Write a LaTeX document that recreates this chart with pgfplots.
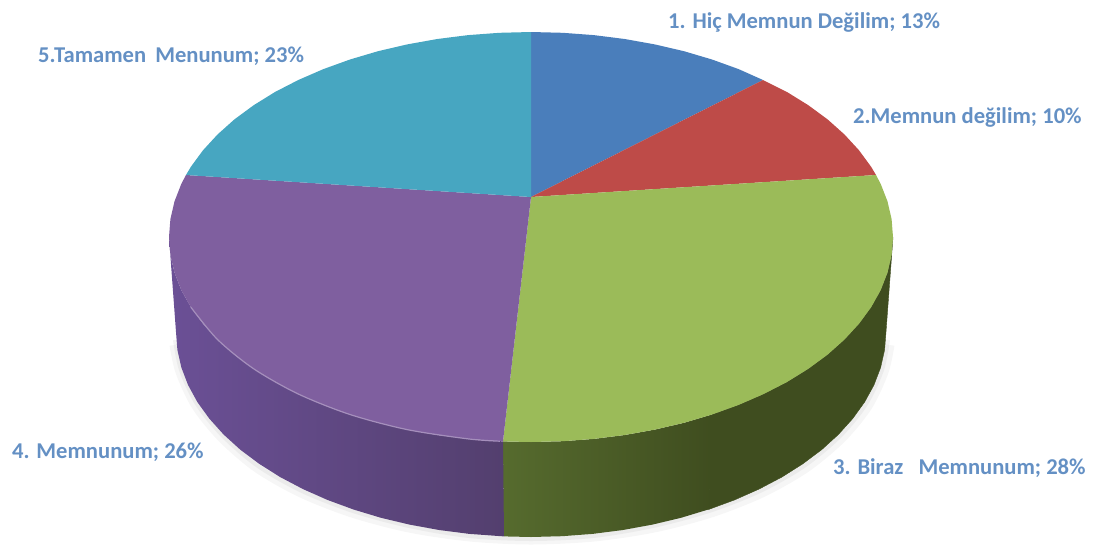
\documentclass[border=0pt]{standalone}
\usepackage{pgfplots}
\pgfplotsset{compat=1.18}
\usepackage{fontspec}
\setmainfont{Carlito}

\definecolor{pblue}{HTML}{4A7EBB}
\definecolor{pred}{HTML}{BE4B48}
\definecolor{pgreen}{HTML}{9BBB59}
\definecolor{ppurple}{HTML}{7F5F9F}
\definecolor{pteal}{HTML}{47A6C1}
\definecolor{lbl}{HTML}{6490C4}
\definecolor{gdark}{HTML}{3F4D1F}
\definecolor{glight}{HTML}{566B2E}
\definecolor{vlight}{HTML}{6B5096}
\definecolor{vdark}{HTML}{533F6E}

\newcommand{\pielabel}[2]{\node[anchor=west,text=lbl,font=\fontsize{22.6}{26}\selectfont\bfseries,inner sep=0pt] at (axis cs:#1) {#2};}

\begin{document}
\begin{tikzpicture}
\begin{axis}[
    width=1093pt, height=547pt, scale only axis,
    xmin=0, xmax=1093, ymin=0, ymax=547,
    y dir=reverse, hide axis, clip=false]

% soft shadow under the lower rim
\addplot[smooth, black!60, opacity=0.06, line width=9pt] coordinates {
(890,345) (884,372) (868,406) (842,438) (806,468) (762,493) (711,513) (654,528) (594,537) (531,540) (470,537) (409,528) (352,513) (301,493) (257,468) (222,438) (196,406) (180,372) (174,345)};
\addplot[smooth, black!60, opacity=0.08, line width=4pt] coordinates {
(888,340) (882,370) (866,404) (840,436) (804,466) (760,491) (709,511) (653,526) (593,536) (531,539) (469,536) (409,526) (353,511) (302,491) (258,466) (223,436) (197,404) (181,370) (175,340)};

% side wall, green, dark part
\addplot[fill=gdark, draw=gdark] coordinates {
(893,237) (891.6,254.9) (887.5,272.6) (880.7,290.1) (871.2,307.1) (859.1,323.6) (844.5,339.5) (827.6,354.6) (808.3,368.8) (787,382) (763.7,394) (738.6,404.9) (712,414.5)
(708.5,509.5) (734.6,499.9) (759.2,489) (782,477) (802.9,463.8) (821.8,449.6) (838.4,434.5) (852.7,418.6) (864.6,402.1) (873.9,385.1) (880.6,367.6) (884.6,349.9) (886,332)} -- cycle;
% side wall, green, lit part
\addplot[left color=glight, right color=gdark, draw=none] coordinates {
(712.5,414.3) (684,422.8) (654.8,429.6) (624.7,435) (593.8,438.9) (562.6,441.2) (531,442) (503,441.4)
(504,536.4) (531,537) (562,536.2) (592.6,533.9) (622.9,530) (652.4,524.6) (681,517.8) (709,509.3)} -- cycle;
% side wall, purple
\addplot[left color=vlight, right color=vdark, draw=none] coordinates {
(169,237) (170.4,254.9) (174.5,272.6) (181.3,290.1) (190.8,307.1) (202.9,323.6) (217.5,339.5) (234.4,354.6) (253.7,368.8) (275,382) (298.3,394) (323.4,404.9) (350,414.5) (378,422.8) (407.2,429.6) (437.3,435) (468.2,438.9) (503,441.4)
(504,536.4) (469.4,533.9) (439.1,530) (409.6,524.6) (381,517.8) (353.5,509.5) (327.4,499.9) (302.8,489) (280,477) (259.1,463.8) (240.2,449.6) (223.6,434.5) (209.3,418.6) (197.4,402.1) (188.1,385.1) (181.4,367.6) (177.4,349.9) (176,332)} -- cycle;

% top face
\addplot[fill=pblue, draw=none] coordinates {(531,197) (531,32) (562.6,32.8) (593.8,35.1) (624.7,39) (654.8,44.4) (684,51.2) (712,59.5) (738.6,69.1) (763,80)} -- cycle;
\addplot[fill=pred, draw=none] coordinates {(531,197) (763,80) (787,92) (808.3,105.2) (827.6,119.4) (844.5,134.5) (859.1,150.4) (871.2,166.9) (876,175)} -- cycle;
\addplot[fill=pgreen, draw=none] coordinates {(531,197) (876,175) (880.7,183.9) (887.5,201.4) (891.6,219.1) (893,237) (891.6,254.9) (887.5,272.6) (880.7,290.1) (871.2,307.1) (859.1,323.6) (844.5,339.5) (827.6,354.6) (808.3,368.8) (787,382) (763.7,394) (738.6,404.9) (712,414.5) (684,422.8) (654.8,429.6) (624.7,435) (593.8,438.9) (562.6,441.2) (531,442) (503,441.4)} -- cycle;
\addplot[fill=ppurple, draw=none] coordinates {(531,197) (503,441.4) (468.2,438.9) (437.3,435) (407.2,429.6) (378,422.8) (350,414.5) (323.4,404.9) (298.3,394) (275,382) (253.7,368.8) (234.4,354.6) (217.5,339.5) (202.9,323.6) (190.8,307.1) (181.3,290.1) (174.5,272.6) (170.4,254.9) (169,237) (170.4,219.1) (174.5,201.4) (181.3,183.9) (186,175)} -- cycle;
\addplot[fill=pteal, draw=none] coordinates {(531,197) (186,175) (190.8,166.9) (202.9,150.4) (217.5,134.5) (234.4,119.4) (253.7,105.2) (275,92) (298.3,80) (323.4,69.1) (350,59.5) (378,51.2) (407.2,44.4) (437.3,39) (468.2,35.1) (499.4,32.8) (531,32)} -- cycle;

% light rim on the purple slice
\addplot[smooth, color=ppurple!70!white, line width=1.2pt] coordinates {(190.8,307.1) (217.5,339.5) (253.7,368.8) (298.3,394) (350,414.5) (407.2,429.6) (468.2,438.9) (500,441.2)};

\pielabel{668,22}{1. Hiç Memnun Değilim; 13\%}
\pielabel{853,117}{2.Memnun değilim; 10\%}
\pielabel{833,468}{3. Biraz\hspace{10pt} Memnunum; 28\%}
\pielabel{12,452}{4. Memnunum; 26\%}
\pielabel{38,56}{5.Tamamen\hspace{4pt} Menunum; 23\%}
\path (axis cs:0,0) rectangle (axis cs:1093,547);
\end{axis}
\end{tikzpicture}
\end{document}
